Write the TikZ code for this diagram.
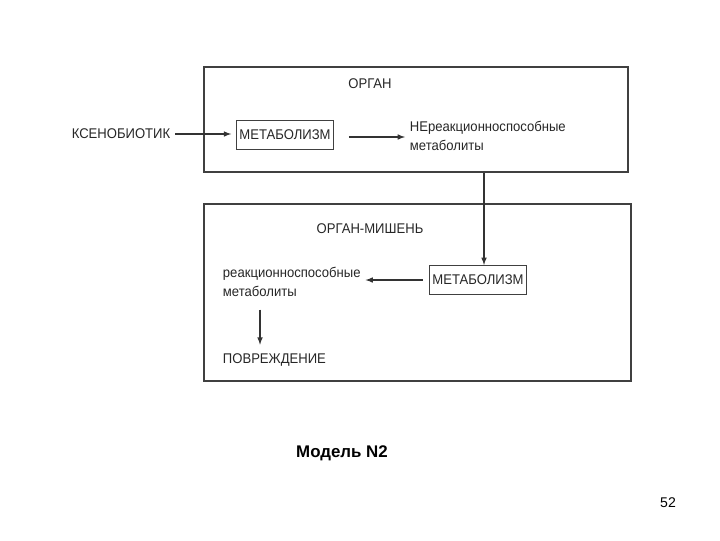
\documentclass[tikz,border=0pt]{standalone}
\usepackage{fontspec}
\setmainfont{Liberation Sans}
\newfontfamily\diagfont[FakeStretch=0.93]{Liberation Sans}
\usetikzlibrary{positioning}
\begin{document}
\begin{tikzpicture}[x=0.025cm,y=-0.025cm,
        every node/.style={font=\diagfont\fontsize{10}{13.5}\selectfont,text=black!85},
        organbox/.style={draw=black!75,line width=0.9pt,inner sep=0},
        metabox/.style={draw=black!75,line width=0.9pt,minimum width=2.4cm,minimum height=0.72cm,inner sep=2pt},
        flow/.style={-latex,line width=0.8pt,black!80}]
    \useasboundingbox (0,0) rectangle (720,540);

    % upper organ
    \node[organbox,minimum width=10.6cm,minimum height=2.625cm] (organ) at (416,119.5) {};
    \node (organlabel) at (370,84) {ОРГАН};
    \node (xeno) at (121,134) {КСЕНОБИОТИК};
    \node[metabox] (metab1) at (285,135) {МЕТАБОЛИЗМ};
    \node[align=left,anchor=west] (inert) at (405,136) {НЕреакционноспособные\\метаболиты};
    \draw[flow,shorten >=0.12cm] (xeno) -- (xeno -| metab1.west);
    \draw[flow,shorten <=0.37cm] ([yshift=-0.05cm]metab1.east) -- ([yshift=-0.05cm]inert.west |- metab1.east);

    % target organ
    \node[organbox,minimum width=10.675cm,minimum height=4.425cm] (target) at (417.5,292.5) {};
    \node (targetlabel) at (370,229) {ОРГАН-МИШЕНЬ};
    \node[metabox] (metab2) at (478,280) {МЕТАБОЛИЗМ};
    \node[align=left,anchor=west] (reactive) at (218,282) {реакционноспособные\\метаболиты};
    \node[anchor=west] (damage) at (218,360) {ПОВРЕЖДЕНИЕ};
    \draw[flow] ([xshift=0.15cm]metab2.north |- organ.south) -- ([xshift=0.15cm]metab2.north);
    \draw[flow,shorten <=0.15cm] (metab2.west) -- (reactive.east |- metab2.west);
    \draw[flow,shorten <=0.2cm,shorten >=0.1cm] ([xshift=1.05cm]reactive.south west) -- ([xshift=1.05cm]damage.north west);

    % caption
    \node[font=\fontsize{12}{14}\selectfont\bfseries,text=black] (caption) at (342,453) {Модель N2};
    \node[font=\fontsize{10}{12}\selectfont,text=black] (pagenum) at (668,503) {52};
\end{tikzpicture}
\end{document}
